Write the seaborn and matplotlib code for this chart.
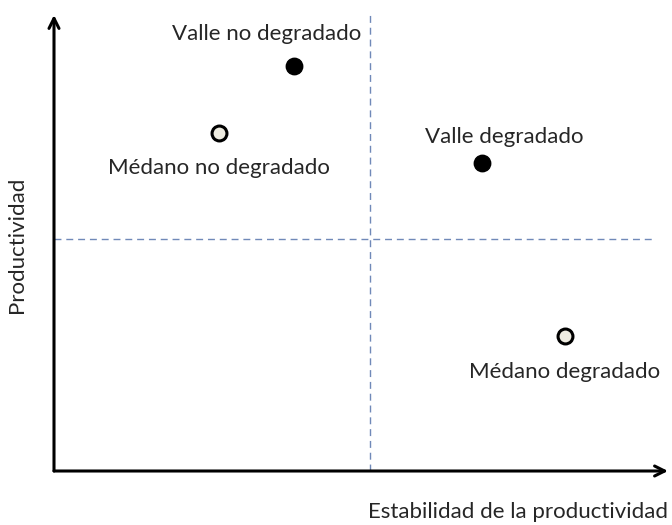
import pandas as pd
import matplotlib.pyplot as plt
import seaborn as sns

# Sitios (unidades arbitrarias 0-10)
SITIOS = ["Valle no degradado", "Médano no degradado", "Valle degradado", "Médano degradado"]
AMBIENTE = ["Valle", "Médano", "Valle", "Médano"]
ESTABILIDAD = [3.91, 2.69, 6.97, 8.32]
PRODUCTIVIDAD = [8.88, 7.41, 6.75, 2.96]

# Lineas de referencia
CORTE_X = 5.15
CORTE_Y = 5.09

# Posicion de las etiquetas (desplazamiento respecto al punto, en puntos)
OFFSETS = [(-20, 23), (0, -25), (16, 19), (0, -26)]

sns.set_style("white")
plt.rcParams['font.family'] = ['Lato', 'DejaVu Sans']

df = pd.DataFrame({
    "sitio": SITIOS,
    "ambiente": AMBIENTE,
    "estabilidad": ESTABILIDAD,
    "productividad": PRODUCTIVIDAD,
})

fig = plt.figure(figsize=(6.72, 5.25), dpi=100)
ax = fig.add_axes([54 / 672, 54 / 525, 614 / 672, 456 / 525])

ax.axvline(CORTE_X, color="#7089b8", lw=1, ls=(0, (5, 3.5)))
ax.axhline(CORTE_Y, xmax=0.98, color="#7089b8", lw=1, ls=(0, (5, 3.5)))

sns.scatterplot(
    data=df[df.ambiente == "Valle"], x="estabilidad", y="productividad",
    color="black", edgecolor="black", s=140, linewidth=1, ax=ax, zorder=3,
)
sns.scatterplot(
    data=df[df.ambiente == "Médano"], x="estabilidad", y="productividad",
    color="#eeece1", edgecolor="black", s=115, linewidth=2.2, ax=ax, zorder=3,
)

for (_, row), off in zip(df.iterrows(), OFFSETS):
    ax.annotate(row.sitio, (row.estabilidad, row.productividad), xytext=off,
                textcoords="offset points", ha="center", va="center", fontsize=16)

ax.set_xlim(0, 10)
ax.set_ylim(0, 10)
ax.set_xticks([])
ax.set_yticks([])
for s in ax.spines.values():
    s.set_visible(False)
ax.set_xlabel("")
ax.set_ylabel("")

# ejes con flecha
ax.annotate("", xy=(0, 1), xytext=(0, 0), xycoords="axes fraction",
            arrowprops=dict(arrowstyle="->", lw=2.2, color="black", mutation_scale=18,
                            shrinkA=0, shrinkB=0))
ax.annotate("", xy=(1, 0), xytext=(0, 0), xycoords="axes fraction",
            arrowprops=dict(arrowstyle="->", lw=2.2, color="black", mutation_scale=18,
                            shrinkA=0, shrinkB=0))

fig.text(17 / 672, 1 - 245 / 525, "Productividad", rotation=90, ha="center", va="center", fontsize=16)
fig.text(668 / 672, 1 - 512 / 525, "Estabilidad de la productividad", ha="right", va="center", fontsize=16)

fig.savefig("out.png", dpi=100)
